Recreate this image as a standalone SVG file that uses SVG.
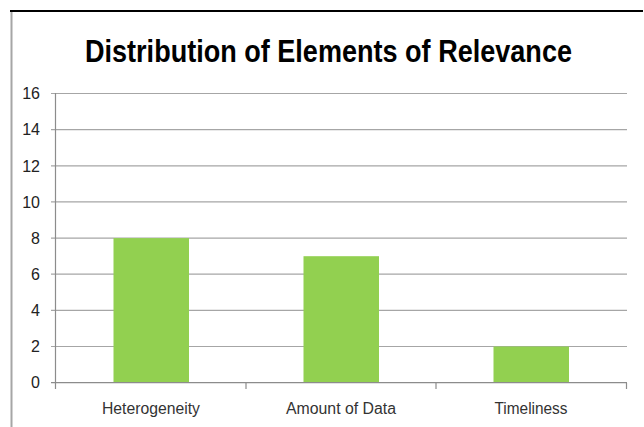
<svg xmlns="http://www.w3.org/2000/svg" width="644" height="427" viewBox="0 0 644 427">
<style>
.grid{stroke:#a6a6a6;stroke-width:1.2}
.axis{stroke:#8c8c8c;stroke-width:1.2}
.bar{fill:#92d050}
.ylab{font-family:"Liberation Sans",Arial,sans-serif;font-size:16px;fill:#222;text-anchor:end}
.xlab{font-family:"Liberation Sans",Arial,sans-serif;font-size:16px;fill:#333;text-anchor:middle}
.title{font-family:"Liberation Sans",Arial,sans-serif;font-size:27px;font-weight:bold;fill:#000;text-anchor:middle}
</style>
<rect x="0" y="0" width="644" height="427" fill="#fff"/>
<line x1="10" y1="11" x2="643" y2="11" stroke="#000" stroke-width="2"/>
<line x1="11.5" y1="12" x2="11.5" y2="427" stroke="#a6a6a6" stroke-width="2"/>
<g id="title" transform="translate(0,61.5) scale(1,1.18)">
<text class="title" x="328.5" y="0" textLength="487" lengthAdjust="spacingAndGlyphs">Distribution of Elements of Relevance</text>
</g>
<g id="gridlines">
<line class="grid" x1="51" y1="93.5" x2="627" y2="93.5"/>
<line class="grid" x1="51" y1="129.6" x2="627" y2="129.6"/>
<line class="grid" x1="51" y1="165.8" x2="627" y2="165.8"/>
<line class="grid" x1="51" y1="201.9" x2="627" y2="201.9"/>
<line class="grid" x1="51" y1="238.1" x2="627" y2="238.1"/>
<line class="grid" x1="51" y1="274.2" x2="627" y2="274.2"/>
<line class="grid" x1="51" y1="310.4" x2="627" y2="310.4"/>
<line class="grid" x1="51" y1="346.5" x2="627" y2="346.5"/>
</g>
<g id="y-labels">
<text class="ylab" x="40" y="99.2">16</text>
<text class="ylab" x="40" y="135.3">14</text>
<text class="ylab" x="40" y="171.5">12</text>
<text class="ylab" x="40" y="207.6">10</text>
<text class="ylab" x="40" y="243.8">8</text>
<text class="ylab" x="40" y="279.9">6</text>
<text class="ylab" x="40" y="316.1">4</text>
<text class="ylab" x="40" y="352.2">2</text>
<text class="ylab" x="40" y="388.4">0</text>
</g>
<g id="bar-heterogeneity">
<rect class="bar" x="113.5" y="238.1" width="75.5" height="144.6"/>
<text class="xlab" x="151" y="414.3" textLength="98" lengthAdjust="spacingAndGlyphs">Heterogeneity</text>
</g>
<g id="bar-amount-of-data">
<rect class="bar" x="303.5" y="256.2" width="75.5" height="126.5"/>
<text class="xlab" x="341" y="414.3" textLength="110" lengthAdjust="spacingAndGlyphs">Amount of Data</text>
</g>
<g id="bar-timeliness">
<rect class="bar" x="493.5" y="346.5" width="75.5" height="36.2"/>
<text class="xlab" x="531" y="414.3" textLength="73" lengthAdjust="spacingAndGlyphs">Timeliness</text>
</g>
<g id="axes">
<line class="axis" x1="55.5" y1="93" x2="55.5" y2="389"/>
<line class="axis" x1="51" y1="382.7" x2="627" y2="382.7"/>
<line class="axis" x1="246" y1="382.7" x2="246" y2="389"/>
<line class="axis" x1="436" y1="382.7" x2="436" y2="389"/>
<line class="axis" x1="626.5" y1="382.7" x2="626.5" y2="389"/>
</g>
</svg>
